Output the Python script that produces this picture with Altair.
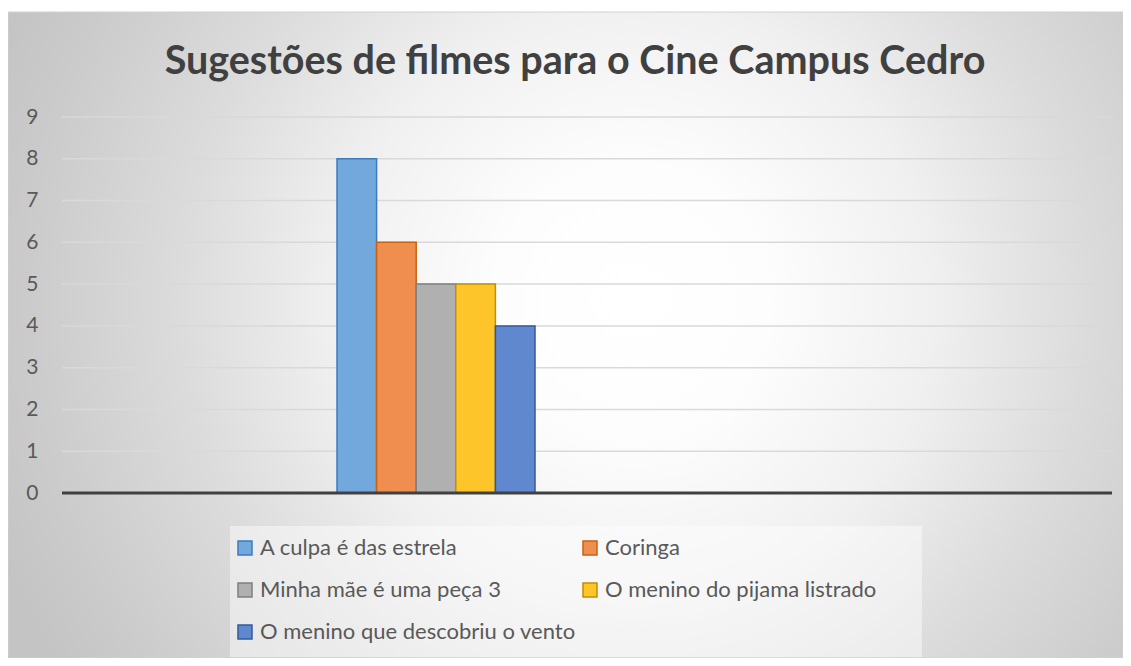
import altair as alt
import pandas as pd

# ---- data ----
series = [
    "A culpa é das estrela",
    "Coringa",
    "Minha mãe é uma peça 3",
    "O menino do pijama listrado",
    "O menino que descobriu o vento",
]
values = [8, 6, 5, 5, 4]
y_ticks = [0, 1, 2, 3, 4, 5, 6, 7, 8, 9]
baseline = [0]

fill_colors = ["#72A8DB", "#EF8E4F", "#B0B0B0", "#FEC52A", "#6088CE"]
stroke_colors = ["#3A7CC0", "#C9620F", "#7F7F7F", "#BF9000", "#35589C"]

TITLE = "Sugestões de filmes para o Cine Campus Cedro"
FONT = "Lato"

W, H = 1050, 376
PAD = {"left": 54, "top": 109, "right": 11, "bottom": 165}
GROUP_RANGE = [275, 473]  # horizontal span of the single (unlabelled) category

bars_df = pd.DataFrame({"series": series, "value": values})
grid_df = pd.DataFrame({"value": y_ticks})
base_df = pd.DataFrame({"value": baseline})
one_df = pd.DataFrame({"a": [0]})

y_enc = alt.Y(
    "value:Q",
    scale=alt.Scale(domain=[0, 9], nice=False, zero=True),
    axis=alt.Axis(
        values=y_ticks, grid=False, domain=False, ticks=False, title=None,
        labelFontSize=21, labelFont=FONT, labelColor="#595959",
        labelPadding=24, zindex=1,
    ),
)

# background with radial gradient (chart area)
bg_grad = alt.RadialGradient(
    gradient="radial",
    stops=[
        alt.GradientStop(color="#FFFFFF", offset=0),
        alt.GradientStop(color="#FDFDFD", offset=0.2),
        alt.GradientStop(color="#F0F0F0", offset=0.44),
        alt.GradientStop(color="#DCDCDC", offset=0.66),
        alt.GradientStop(color="#CBCBCB", offset=0.89),
        alt.GradientStop(color="#C4C4C4", offset=1),
    ],
    x1=0.56, y1=0.47, r1=0,
    x2=0.56, y2=0.47, r2=0.61,
)
background = alt.Chart(one_df).mark_rect(
    fill=bg_grad, stroke="#D0D0D0", strokeWidth=1
).encode(
    x=alt.value(-PAD["left"]), x2=alt.value(W + PAD["right"]),
    y=alt.value(-105), y2=alt.value(H + PAD["bottom"]),
)

title = alt.Chart(one_df).mark_text(
    text=TITLE, font=FONT, fontSize=39.5, fontWeight="bold", color="#404040",
    align="center", baseline="alphabetic",
).encode(x=alt.value(513), y=alt.value(-43))

legend_box = alt.Chart(one_df).mark_rect(fill="#FFFFFF", opacity=0.45).encode(
    x=alt.value(168), x2=alt.value(860), y=alt.value(409), y2=alt.value(540)
)

grid = alt.Chart(grid_df).mark_rule(color="#D9D9D9", strokeWidth=1.5).encode(
    y=y_enc, x=alt.value(0), x2=alt.value(W)
)

legend = alt.Legend(
    orient="none", legendX=172, legendY=420, columns=2, direction="horizontal",
    title=None, symbolType="square", symbolSize=196, symbolStrokeWidth=1.5,
    symbolOpacity=1, labelFontSize=22, labelFont=FONT, labelColor="#595959",
    rowPadding=20, columnPadding=3, labelOffset=4, labelLimit=500,
)

bars = alt.Chart(bars_df).mark_bar(strokeWidth=1.5, opacity=1).encode(
    x=alt.X(
        "series:N",
        sort=series,
        scale=alt.Scale(range=GROUP_RANGE, paddingInner=0, paddingOuter=0),
        axis=None,
    ),
    y=y_enc,
    fill=alt.Fill("series:N", scale=alt.Scale(domain=series, range=fill_colors), legend=legend),
    stroke=alt.Stroke("series:N", scale=alt.Scale(domain=series, range=stroke_colors), legend=legend),
)

zero_line = alt.Chart(base_df).mark_rule(color="#404040", strokeWidth=3).encode(
    y=y_enc, x=alt.value(0), x2=alt.value(W)
)

chart = alt.layer(background, title, legend_box, grid, bars, zero_line).properties(
    width=W, height=H,
    autosize=alt.AutoSizeParams(type="none"),
    padding=PAD,
).configure_view(stroke=None).configure(background="#FFFFFF")

chart.save("out.html", embed_options={"renderer": "svg", "actions": False})
